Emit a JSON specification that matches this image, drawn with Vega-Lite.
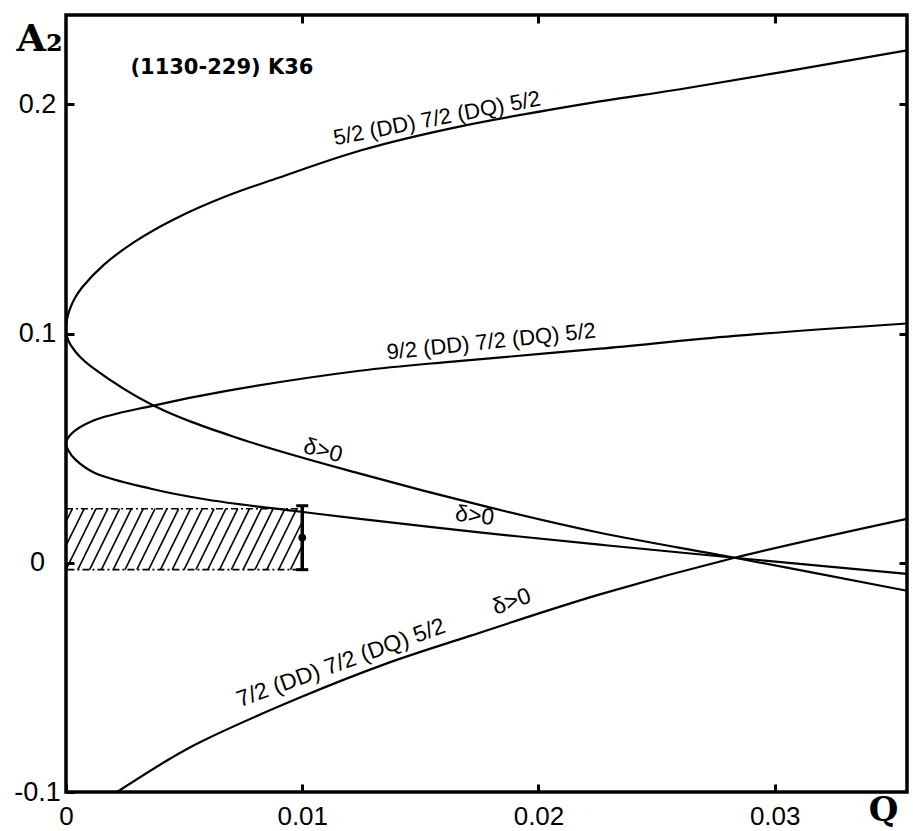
{
  "$schema": "https://vega.github.io/schema/vega-lite/v6.json",
  "width": 841,
  "height": 777,
  "autosize": {"type": "none"},
  "padding": {"left": 66, "top": 15, "right": 6, "bottom": 39},
  "background": "white",
  "config": {
    "view": {"stroke": "#000", "strokeWidth": 3.5},
    "axis": {"grid": false, "domain": false, "ticks": true, "tickColor": "#000", "tickWidth": 3, "tickSize": 8, "offset": -8, "labelColor": "#000", "labelFont": "Liberation Sans", "labelFontSize": 27, "labelFlush": false, "labelOverlap": false, "titleColor": "#000"},
    "text": {"font": "Liberation Sans", "color": "#000"}
  },
  "datasets": {
    "hatch": [
      {"q1": 0, "a1": 0.0179, "q2": 0.00027, "a2": 0.0236},
      {"q1": 0, "a1": 0.0075, "q2": 0.00077, "a2": 0.0236},
      {"q1": 0, "a1": -0.003, "q2": 0.00127, "a2": 0.0236},
      {"q1": 0.0005, "a1": -0.003, "q2": 0.00177, "a2": 0.0236},
      {"q1": 0.001, "a1": -0.003, "q2": 0.00227, "a2": 0.0236},
      {"q1": 0.0015, "a1": -0.003, "q2": 0.00277, "a2": 0.0236},
      {"q1": 0.002, "a1": -0.003, "q2": 0.00327, "a2": 0.0236},
      {"q1": 0.0025, "a1": -0.003, "q2": 0.00377, "a2": 0.0236},
      {"q1": 0.003, "a1": -0.003, "q2": 0.00427, "a2": 0.0236},
      {"q1": 0.0035, "a1": -0.003, "q2": 0.00477, "a2": 0.0236},
      {"q1": 0.004, "a1": -0.003, "q2": 0.00527, "a2": 0.0236},
      {"q1": 0.0045, "a1": -0.003, "q2": 0.00577, "a2": 0.0236},
      {"q1": 0.005, "a1": -0.003, "q2": 0.00627, "a2": 0.0236},
      {"q1": 0.0055, "a1": -0.003, "q2": 0.00677, "a2": 0.0236},
      {"q1": 0.006, "a1": -0.003, "q2": 0.00727, "a2": 0.0236},
      {"q1": 0.0065, "a1": -0.003, "q2": 0.00777, "a2": 0.0236},
      {"q1": 0.007, "a1": -0.003, "q2": 0.00827, "a2": 0.0236},
      {"q1": 0.0075, "a1": -0.003, "q2": 0.00877, "a2": 0.0236},
      {"q1": 0.008, "a1": -0.003, "q2": 0.00927, "a2": 0.0236},
      {"q1": 0.0085, "a1": -0.003, "q2": 0.00977, "a2": 0.0236},
      {"q1": 0.009, "a1": -0.003, "q2": 0.01, "a2": 0.0179},
      {"q1": 0.0095, "a1": -0.003, "q2": 0.01, "a2": 0.0075}
    ],
    "curves": [
      {"curve": "5/2", "q": 0.0356, "a": 0.2236},
      {"curve": "5/2", "q": 0.026, "a": 0.2066},
      {"curve": "5/2", "q": 0.0226, "a": 0.2013},
      {"curve": "5/2", "q": 0.0165, "a": 0.19},
      {"curve": "5/2", "q": 0.0125, "a": 0.18},
      {"curve": "5/2", "q": 0.009, "a": 0.168},
      {"curve": "5/2", "q": 0.0068, "a": 0.16},
      {"curve": "5/2", "q": 0.0046, "a": 0.15},
      {"curve": "5/2", "q": 0.0029, "a": 0.14},
      {"curve": "5/2", "q": 0.0016, "a": 0.13},
      {"curve": "5/2", "q": 0.00067, "a": 0.12},
      {"curve": "5/2", "q": 0.00035, "a": 0.115},
      {"curve": "5/2", "q": 0.00014, "a": 0.11},
      {"curve": "5/2", "q": 0.00004, "a": 0.106},
      {"curve": "5/2", "q": 0, "a": 0.102},
      {"curve": "5/2", "q": 0.00006, "a": 0.098},
      {"curve": "5/2", "q": 0.0002, "a": 0.095},
      {"curve": "5/2", "q": 0.00058, "a": 0.09},
      {"curve": "5/2", "q": 0.00114, "a": 0.085},
      {"curve": "5/2", "q": 0.0037, "a": 0.0686},
      {"curve": "5/2", "q": 0.0071, "a": 0.055},
      {"curve": "5/2", "q": 0.01244, "a": 0.0389},
      {"curve": "5/2", "q": 0.0178, "a": 0.0245},
      {"curve": "5/2", "q": 0.0226, "a": 0.0131},
      {"curve": "5/2", "q": 0.0283, "a": 0.0022},
      {"curve": "5/2", "q": 0.0356, "a": -0.0122},
      {"curve": "9/2", "q": 0.0356, "a": 0.1044},
      {"curve": "9/2", "q": 0.0283, "a": 0.099},
      {"curve": "9/2", "q": 0.0226, "a": 0.0934},
      {"curve": "9/2", "q": 0.0166, "a": 0.088},
      {"curve": "9/2", "q": 0.01244, "a": 0.0838},
      {"curve": "9/2", "q": 0.0068, "a": 0.075},
      {"curve": "9/2", "q": 0.0037, "a": 0.0686},
      {"curve": "9/2", "q": 0.00114, "a": 0.062},
      {"curve": "9/2", "q": 0.0002, "a": 0.056},
      {"curve": "9/2", "q": 0, "a": 0.052},
      {"curve": "9/2", "q": 0.0001, "a": 0.049},
      {"curve": "9/2", "q": 0.0004, "a": 0.045},
      {"curve": "9/2", "q": 0.0012, "a": 0.0393},
      {"curve": "9/2", "q": 0.0036, "a": 0.0323},
      {"curve": "9/2", "q": 0.006, "a": 0.0275},
      {"curve": "9/2", "q": 0.0096, "a": 0.0227},
      {"curve": "9/2", "q": 0.01244, "a": 0.0192},
      {"curve": "9/2", "q": 0.0175, "a": 0.0133},
      {"curve": "9/2", "q": 0.0226, "a": 0.0079},
      {"curve": "9/2", "q": 0.0283, "a": 0.0022},
      {"curve": "9/2", "q": 0.0356, "a": -0.0048},
      {"curve": "7/2", "q": 0.00216, "a": -0.1},
      {"curve": "7/2", "q": 0.0044, "a": -0.0855},
      {"curve": "7/2", "q": 0.00567, "a": -0.0783},
      {"curve": "7/2", "q": 0.0099, "a": -0.0588},
      {"curve": "7/2", "q": 0.0135, "a": -0.0442},
      {"curve": "7/2", "q": 0.0171, "a": -0.0319},
      {"curve": "7/2", "q": 0.0226, "a": -0.0138},
      {"curve": "7/2", "q": 0.0283, "a": 0.0022},
      {"curve": "7/2", "q": 0.0356, "a": 0.0192}
    ]
  },
  "layer": [
    {
      "data": {"name": "hatch"},
      "mark": {"type": "rule", "stroke": "#000", "strokeWidth": 1.6},
      "encoding": {
        "x": {"field": "q1", "type": "quantitative", "scale": {"domain": [0, 0.0356], "nice": false, "zero": false},
          "axis": {"orient": "bottom", "values": [0, 0.01, 0.02, 0.03], "labelExpr": "datum.value == 0 ? '0' : format(datum.value, '.2f')", "labelBaseline": "alphabetic", "labelPadding": 32, "labelFontSize": 26,
            "title": "Q", "titleFont": "DejaVu Serif", "titleFontWeight": "bold", "titleFontSize": 34, "titleX": 817, "titleY": 36, "titleAlign": "center", "titleBaseline": "alphabetic"}},
        "x2": {"field": "q2"},
        "y": {"field": "a1", "type": "quantitative", "scale": {"domain": [-0.1, 0.239], "nice": false, "zero": false},
          "axis": {"orient": "left", "values": [-0.1, 0, 0.1, 0.2], "labelExpr": "datum.value == 0 ? '0' : (datum.value < 0 ? '-' + format(-datum.value, '.1f') : format(datum.value, '.1f'))", "labelAlign": "center", "labelPadding": 29,
            "title": "A₂", "titleFont": "DejaVu Serif", "titleFontWeight": "bold", "titleFontSize": 38, "titleAngle": 0, "titleX": -35, "titleY": 35, "titleAlign": "center", "titleBaseline": "alphabetic"}},
        "y2": {"field": "a2"}
      }
    },
    {
      "data": {"values": [{"q": 0, "q2": 0.01, "lo": -0.003, "hi": 0.0236}]},
      "mark": {"type": "rect", "fill": null, "fillOpacity": 0, "stroke": "#000", "strokeWidth": 1.6, "strokeDash": [7, 3, 2, 3]},
      "encoding": {
        "x": {"field": "q", "type": "quantitative", "scale": {"domain": [0, 0.0356], "nice": false, "zero": false}, "axis": null},
        "x2": {"field": "q2"},
        "y": {"field": "lo", "type": "quantitative", "scale": {"domain": [-0.1, 0.239], "nice": false, "zero": false}, "axis": null},
        "y2": {"field": "hi"}
      }
    },
    {
      "data": {"values": [{"q": 0.01, "lo": -0.003, "hi": 0.0249}]},
      "mark": {"type": "rule", "stroke": "#000", "strokeWidth": 3.5},
      "encoding": {
        "x": {"field": "q", "type": "quantitative", "scale": {"domain": [0, 0.0356], "nice": false, "zero": false},
          "axis": {"orient": "top", "values": [0.01, 0.02, 0.03], "labels": false, "title": null}},
        "y": {"field": "lo", "type": "quantitative", "scale": {"domain": [-0.1, 0.239], "nice": false, "zero": false},
          "axis": {"orient": "right", "values": [0, 0.1, 0.2], "labels": false, "title": null}},
        "y2": {"field": "hi"}
      }
    },
    {
      "data": {"values": [{"q": 0.01, "a": -0.003}, {"q": 0.01, "a": 0.0249}]},
      "mark": {"type": "tick", "orient": "horizontal", "color": "#000", "size": 12, "thickness": 3, "opacity": 1},
      "encoding": {
        "x": {"field": "q", "type": "quantitative", "scale": {"domain": [0, 0.0356], "nice": false, "zero": false}, "axis": null},
        "y": {"field": "a", "type": "quantitative", "scale": {"domain": [-0.1, 0.239], "nice": false, "zero": false}, "axis": null}
      }
    },
    {
      "data": {"values": [{"q": 0.01, "a": 0.011}]},
      "mark": {"type": "point", "filled": true, "color": "#000", "size": 60, "opacity": 1},
      "encoding": {
        "x": {"field": "q", "type": "quantitative", "scale": {"domain": [0, 0.0356], "nice": false, "zero": false}, "axis": null},
        "y": {"field": "a", "type": "quantitative", "scale": {"domain": [-0.1, 0.239], "nice": false, "zero": false}, "axis": null}
      }
    },
    {
      "data": {"name": "curves"},
      "mark": {"type": "line", "stroke": "#000", "strokeWidth": 2.2, "interpolate": "catmull-rom", "clip": true},
      "encoding": {
        "x": {"field": "q", "type": "quantitative", "scale": {"domain": [0, 0.0356], "nice": false, "zero": false}, "axis": null},
        "y": {"field": "a", "type": "quantitative", "scale": {"domain": [-0.1, 0.239], "nice": false, "zero": false}, "axis": null},
        "detail": {"field": "curve", "type": "nominal"},
        "order": {"field": "a", "type": "quantitative"}
      }
    },
    {
      "data": {"values": [{"q": 0.0066, "a": 0.216, "label": "(1130-229) K36"}]},
      "mark": {"type": "text", "font": "DejaVu Sans", "fontWeight": "bold", "fontSize": 21, "align": "center", "baseline": "middle"},
      "encoding": {
        "x": {"field": "q", "type": "quantitative", "scale": {"domain": [0, 0.0356], "nice": false, "zero": false}, "axis": null},
        "y": {"field": "a", "type": "quantitative", "scale": {"domain": [-0.1, 0.239], "nice": false, "zero": false}, "axis": null},
        "text": {"field": "label"}
      }
    },
    {
      "data": {"values": [{"q": 0.0157, "a": 0.1939, "label": "5/2 (DD) 7/2 (DQ) 5/2"}]},
      "mark": {"type": "text", "fontSize": 22, "align": "center", "baseline": "middle", "angle": 349},
      "encoding": {
        "x": {"field": "q", "type": "quantitative", "scale": {"domain": [0, 0.0356], "nice": false, "zero": false}, "axis": null},
        "y": {"field": "a", "type": "quantitative", "scale": {"domain": [-0.1, 0.239], "nice": false, "zero": false}, "axis": null},
        "text": {"field": "label"}
      }
    },
    {
      "data": {"values": [{"q": 0.018, "a": 0.0965, "label": "9/2 (DD) 7/2 (DQ) 5/2"}]},
      "mark": {"type": "text", "fontSize": 22, "align": "center", "baseline": "middle", "angle": 354},
      "encoding": {
        "x": {"field": "q", "type": "quantitative", "scale": {"domain": [0, 0.0356], "nice": false, "zero": false}, "axis": null},
        "y": {"field": "a", "type": "quantitative", "scale": {"domain": [-0.1, 0.239], "nice": false, "zero": false}, "axis": null},
        "text": {"field": "label"}
      }
    },
    {
      "data": {"values": [{"q": 0.01164, "a": -0.0437, "label": "7/2 (DD) 7/2 (DQ) 5/2"}]},
      "mark": {"type": "text", "fontSize": 23, "align": "center", "baseline": "middle", "angle": 340},
      "encoding": {
        "x": {"field": "q", "type": "quantitative", "scale": {"domain": [0, 0.0356], "nice": false, "zero": false}, "axis": null},
        "y": {"field": "a", "type": "quantitative", "scale": {"domain": [-0.1, 0.239], "nice": false, "zero": false}, "axis": null},
        "text": {"field": "label"}
      }
    },
    {
      "data": {"values": [{"q": 0.01887, "a": -0.017, "label": "δ>0"}]},
      "mark": {"type": "text", "fontSize": 23, "align": "center", "baseline": "middle", "angle": 340},
      "encoding": {
        "x": {"field": "q", "type": "quantitative", "scale": {"domain": [0, 0.0356], "nice": false, "zero": false}, "axis": null},
        "y": {"field": "a", "type": "quantitative", "scale": {"domain": [-0.1, 0.239], "nice": false, "zero": false}, "axis": null},
        "text": {"field": "label"}
      }
    },
    {
      "data": {"values": [{"q": 0.01088, "a": 0.0489, "label": "δ>0"}]},
      "mark": {"type": "text", "fontSize": 23, "align": "center", "baseline": "middle", "angle": 15},
      "encoding": {
        "x": {"field": "q", "type": "quantitative", "scale": {"domain": [0, 0.0356], "nice": false, "zero": false}, "axis": null},
        "y": {"field": "a", "type": "quantitative", "scale": {"domain": [-0.1, 0.239], "nice": false, "zero": false}, "axis": null},
        "text": {"field": "label"}
      }
    },
    {
      "data": {"values": [{"q": 0.0173, "a": 0.0205, "label": "δ>0"}]},
      "mark": {"type": "text", "fontSize": 23, "align": "center", "baseline": "middle", "angle": 7},
      "encoding": {
        "x": {"field": "q", "type": "quantitative", "scale": {"domain": [0, 0.0356], "nice": false, "zero": false}, "axis": null},
        "y": {"field": "a", "type": "quantitative", "scale": {"domain": [-0.1, 0.239], "nice": false, "zero": false}, "axis": null},
        "text": {"field": "label"}
      }
    }
  ],
  "resolve": {"axis": {"x": "independent", "y": "independent"}}
}
